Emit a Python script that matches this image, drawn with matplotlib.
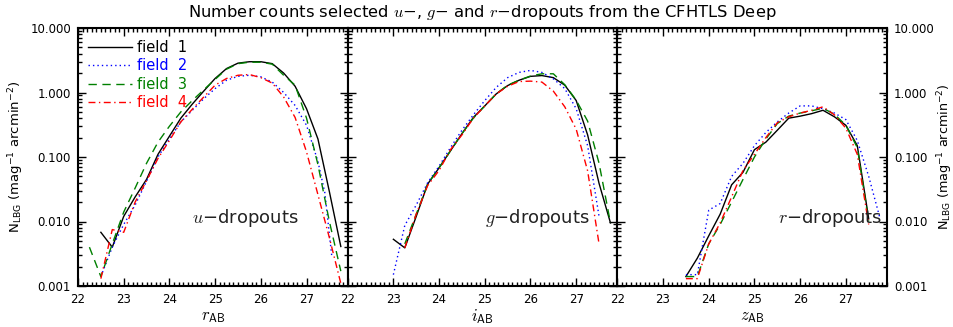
import numpy as np
import matplotlib
matplotlib.use("Agg")
import matplotlib.pyplot as plt
from matplotlib.ticker import FixedLocator, MultipleLocator, LogLocator, NullFormatter, FormatStrFormatter

# u-dropouts (r_AB)
u_x1 = [22.5, 22.75, 23.0, 23.25, 23.5, 23.75, 24.0, 24.25, 24.5, 24.75, 25.0, 25.25, 25.5,
        25.75, 26.0, 26.25, 26.5, 26.75, 27.0, 27.25, 27.5, 27.75]
u_f1 = [0.0068, 0.0040, 0.012, 0.024, 0.045, 0.11, 0.21, 0.40, 0.66, 1.05, 1.65, 2.35, 2.85,
        3.0, 3.0, 2.8, 2.0, 1.25, 0.56, 0.19, 0.029, 0.0041]
u_x2 = [22.5, 22.75, 23.0, 23.25, 23.5, 23.75, 24.0, 24.25, 24.5, 24.75, 25.0, 25.25, 25.5,
        25.75, 26.0, 26.25, 26.5, 26.75, 27.0, 27.25, 27.4, 27.55]
u_f2 = [0.0014, 0.0040, 0.009, 0.018, 0.042, 0.10, 0.19, 0.35, 0.53, 0.80, 1.15, 1.55, 1.78,
        1.85, 1.75, 1.45, 1.0, 0.63, 0.31, 0.085, 0.028, 0.003]
u_x3 = [22.25, 22.5, 22.75, 23.0, 23.25, 23.5, 23.75, 24.0, 24.25, 24.5, 24.75, 25.0, 25.25, 25.5,
        25.75, 26.0, 26.25, 26.5, 26.75, 27.0, 27.25, 27.5, 27.75]
u_f3 = [0.004, 0.0014, 0.0045, 0.014, 0.033, 0.08, 0.17, 0.30, 0.50, 0.75, 1.1, 1.6, 2.3, 2.8,
        2.95, 2.95, 2.75, 1.85, 1.3, 0.40, 0.076, 0.010, 0.0017]
u_x4 = [22.5, 22.75, 23.0, 23.25, 23.5, 23.75, 24.0, 24.25, 24.5, 24.75, 25.0, 25.25, 25.5,
        25.75, 26.0, 26.25, 26.5, 26.75, 27.0, 27.25, 27.5, 27.75]
u_f4 = [0.0013, 0.0075, 0.0068, 0.020, 0.043, 0.095, 0.18, 0.35, 0.55, 0.85, 1.3, 1.65, 1.85,
        1.9, 1.7, 1.4, 0.85, 0.41, 0.12, 0.026, 0.0056, 0.0011]

# g-dropouts (i_AB)
g_x1 = [23.0, 23.25, 23.5, 23.75, 24.0, 24.25, 24.5, 24.75, 25.0, 25.25, 25.5, 25.75, 26.0,
        26.25, 26.5, 26.75, 27.0, 27.25, 27.5, 27.75]
g_f1 = [0.0053, 0.0039, 0.012, 0.038, 0.068, 0.125, 0.23, 0.41, 0.62, 0.95, 1.28, 1.55, 1.78,
        1.83, 1.7, 1.3, 0.75, 0.22, 0.039, 0.0095]
g_x2 = [23.0, 23.25, 23.5, 23.75, 24.0, 24.25, 24.5, 24.75, 25.0, 25.25, 25.5, 25.75, 26.0,
        26.25, 26.5, 26.75, 27.0, 27.25, 27.5]
g_f2 = [0.0015, 0.0087, 0.018, 0.040, 0.072, 0.14, 0.26, 0.45, 0.75, 1.2, 1.7, 2.05, 2.2,
        2.05, 1.63, 1.15, 0.56, 0.15, 0.012]
g_x3 = [23.25, 23.5, 23.75, 24.0, 24.25, 24.5, 24.75, 25.0, 25.25, 25.5, 25.75, 26.0,
        26.25, 26.5, 26.75, 27.0, 27.25, 27.5, 27.75]
g_f3 = [0.0045, 0.013, 0.038, 0.068, 0.125, 0.23, 0.40, 0.62, 0.95, 1.3, 1.55, 1.8,
        1.95, 1.95, 1.32, 0.76, 0.36, 0.08, 0.0095]
g_x4 = [23.25, 23.5, 23.75, 24.0, 24.25, 24.5, 24.75, 25.0, 25.25, 25.5, 25.75, 26.0,
        26.25, 26.5, 26.75, 27.0, 27.25, 27.5]
g_f4 = [0.0039, 0.013, 0.036, 0.062, 0.13, 0.22, 0.40, 0.62, 0.95, 1.25, 1.48, 1.5,
        1.45, 1.05, 0.6, 0.27, 0.061, 0.0045]

# r-dropouts (z_AB)
r_x = [23.5, 23.75, 24.0, 24.25, 24.5, 24.75, 25.0, 25.25, 25.5, 25.75, 26.0, 26.25, 26.5,
       26.75, 27.0, 27.25, 27.5, 27.75]
r_f1 = [0.0014, 0.0027, 0.006, 0.013, 0.037, 0.058, 0.13, 0.17, 0.26, 0.40, 0.43, 0.47, 0.53,
        0.42, 0.31, 0.15, 0.011, np.nan]
r_f2 = [0.0015, 0.0015, 0.015, 0.019, 0.05, 0.08, 0.15, 0.24, 0.35, 0.48, 0.62, 0.62, 0.56,
        0.48, 0.38, 0.18, 0.05, 0.011]
r_f3 = [0.0014, 0.0014, 0.0045, 0.009, 0.02, 0.045, 0.10, 0.19, 0.33, 0.43, 0.48, 0.52, 0.57,
        0.46, 0.31, 0.14, 0.010, np.nan]
r_f4 = [0.0013, 0.0013, 0.0045, 0.0095, 0.024, 0.062, 0.11, 0.20, 0.34, 0.42, 0.48, 0.53, 0.60,
        0.45, 0.28, 0.11, 0.009, np.nan]

labels = ["field  1", "field  2", "field  3", "field  4"]
colors = ["black", "blue", "green", "red"]
styles = ["-", (0, (1, 2.2)), (0, (6, 4)), (0, (5, 2.5, 1, 2.5))]

panels = [
    ([(u_x1, u_f1), (u_x2, u_f2), (u_x3, u_f3), (u_x4, u_f4)], "u", "r"),
    ([(g_x1, g_f1), (g_x2, g_f2), (g_x3, g_f3), (g_x4, g_f4)], "g", "i"),
    ([(r_x, r_f1), (r_x, r_f2), (r_x, r_f3), (r_x, r_f4)], "r", "z"),
]
drop_pos = [(24.5, 0.0115), (25.0, 0.0115), (25.52, 0.0115)]

fig = plt.figure(figsize=(9.54, 3.27), dpi=100)
W, H = 954, 327
x0, x1, y0, y1 = 78, 887, 28, 286
pw = (x1 - x0) / 3.0
ylab = r"N$_{\rm LBG}$ (mag$^{-1}$ arcmin$^{-2}$)"

axes = []
for i, (series, band, mag) in enumerate(panels):
    ax = fig.add_axes([(x0 + i * pw) / W, 1 - y1 / H, pw / W, (y1 - y0) / H])
    axes.append(ax)
    for (xs, ys), c, ls, lab in zip(series, colors, styles, labels):
        ax.plot(xs, ys, color=c, linestyle=ls, lw=1.0, label=lab)
    ax.set_yscale("log")
    ax.set_xlim(22, 27.9)
    ax.set_ylim(0.001, 10)
    ax.xaxis.set_major_locator(FixedLocator([22, 23, 24, 25, 26, 27]))
    ax.xaxis.set_minor_locator(MultipleLocator(0.1))
    ax.yaxis.set_major_locator(LogLocator(base=10, numticks=10))
    ax.yaxis.set_minor_locator(LogLocator(base=10, subs=np.arange(2, 10), numticks=10))
    ax.yaxis.set_minor_formatter(NullFormatter())
    ax.yaxis.set_major_formatter(FormatStrFormatter("%.3f"))
    ax.tick_params(which="both", direction="in", top=True, right=True, labelsize=8.5, width=1.0)
    ax.tick_params(which="major", length=6, pad=5)
    ax.tick_params(which="minor", length=3)
    ax.tick_params(axis="y", labelleft=(i == 0), labelright=(i == 2))
    for s in ax.spines.values():
        s.set_linewidth(1.5)
    ax.set_xlabel(r"$%s_{\mathsf{AB}}$" % mag, fontsize=12, math_fontfamily="cm", labelpad=1)
    ax.text(drop_pos[i][0], drop_pos[i][1], r"$%s$" % band + "\u2212dropouts",
            fontsize=13, math_fontfamily="cm", ha="left", va="center", color="#222222")

axes[0].set_ylabel(ylab, fontsize=9.5, labelpad=3)
axes[2].yaxis.set_label_position("right")
axes[2].set_ylabel(ylab, fontsize=9.2, labelpad=0.5, rotation=90)

leg = axes[0].legend(loc="upper left", frameon=False, fontsize=10.5, handlelength=3.0,
                     handletextpad=0.4, labelspacing=0.22, borderaxespad=0.0,
                     bbox_to_anchor=(0.015, 0.975))
for t, c in zip(leg.get_texts(), colors):
    t.set_color(c)

fig.text(482.5 / W, 1 - 13 / H,
         r"Number counts selected $u$" + "\u2212, " + r"$g$" + "\u2212 and " + r"$r$"
         + "\u2212dropouts from the CFHTLS Deep",
         ha="center", va="center", fontsize=11.8, math_fontfamily="cm")

fig.savefig("out.png", dpi=100)
